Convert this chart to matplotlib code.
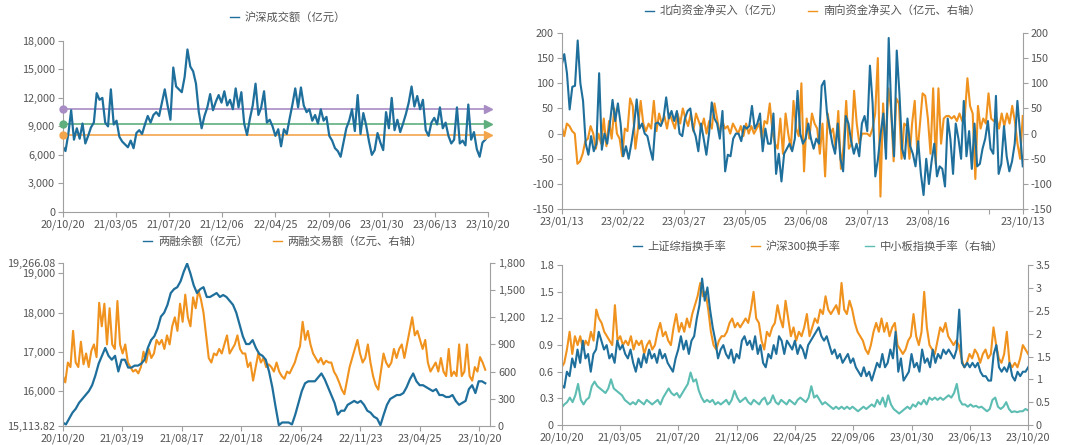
import numpy as np
import matplotlib.pyplot as plt
from matplotlib.lines import Line2D
from matplotlib.ticker import FuncFormatter

plt.rcParams['font.family'] = ['Noto Sans CJK SC', 'DejaVu Sans']
plt.rcParams['axes.unicode_minus'] = False

# ---- 面板1: 沪深成交额（亿元）
turnover = [6900, 6400, 8200, 10700, 7600, 8800, 7700, 9300, 7200, 8000,
            8900, 9400, 12500, 11800, 12000, 9400, 9000, 12900, 9200, 9600,
            7900, 7400, 7100, 6800, 7500, 6700, 8300, 8600, 8200, 9200,
            10100, 9400, 10200, 10500, 10100, 11500, 12900, 11200, 9700, 15200,
            13200, 12900, 12600, 14200, 17100, 15300, 14800, 13500, 10500, 8800,
            10100, 11000, 12400, 10700, 11600, 12300, 11500, 12700, 11200, 11800,
            10800, 13000, 11000, 12600, 9300, 8100, 9800, 11200, 13500, 10200,
            11000, 12700, 9400, 9700, 9000, 8000, 8700, 6900, 8700, 8200,
            9800, 11300, 13000, 11000, 13100, 11200, 10500, 10800, 9600, 10200,
            9300, 10800, 9600, 10000, 8000, 7500, 6700, 6400, 5800, 7300,
            8800, 9600, 10800, 8500, 12300, 8200, 10400, 9100, 7400, 6000,
            6500, 8300, 7300, 6500, 10500, 8800, 12000, 8600, 9700, 8400,
            9300, 10300, 11500, 13200, 11100, 12200, 10800, 11800, 8600, 8000,
            9400, 9900, 9200, 11000, 8800, 9400, 8000, 7200, 7600, 11000,
            7200, 7500, 7000, 11300, 7600, 8400, 6600, 5800, 7300, 7600, 8100]
ref_levels = [10800, 9300, 8100]
ref_colors = ['#a88cc4', '#5fae7d', '#f3a54c']
p1_labels = ['20/10/20', '21/03/05', '21/07/20', '21/12/06', '22/04/25',
             '22/09/06', '23/01/30', '23/06/13', '23/10/20']

# ---- 面板2: 北向/南向资金净买入
north = [135, 158, 120, 48, 93, 95, 185, 100, 65, -20, -42, -5, -35, -20, 120,
         -32, 0, -20, 20, 67, 25, 60, 20, -45, -25, -50, -20, 15, 68, 10,
         20, 0, -5, -30, -52, 20, 22, 15, 30, 72, 30, 45, 25, 45, 0,
         -5, 30, 45, 50, 10, -5, -35, 20, -10, -42, 0, 62, 30, 20, -10,
         45, -75, -42, -45, -10, 0, 0, -15, 15, 10, 15, 55, 10, 20, 40,
         -35, 10, -20, -20, 40, -80, -40, -95, -40, -30, -20, -35, -10, 85, 0,
         -20, -10, 20, -10, -30, -10, -20, 95, 105, 40, 10, -20, -40, 20, -50,
         -75, 35, 20, -15, -40, -20, -45, 20, 35, 5, 135, 60, -85, -50, 0,
         40, -50, 190, 40, -45, 165, 80, -30, -50, 30, -25, -40, -65, -15, -80,
         -122, -50, -100, -55, -20, -85, -65, -70, -105, 30, -10, -80, 20, -10, -50,
         65, -45, 5, -70, 20, -65, -60, -30, -10, 25, -30, -40, 75, -80, -60,
         15, -45, -75, -55, -20, 65, 0, -65]
south = [15, -5, 20, 15, 5, 0, -60, -55, -40, -15, -10, 15, 0, -30, 0,
         -20, 30, -25, 25, -10, 50, 0, -10, -45, 10, 5, 70, 55, -30, 10,
         65, 20, 5, 20, 10, 65, 5, 40, 20, 35, 10, 40, 25, 10, 40,
         20, 50, 30, 15, 40, 5, 40, 25, 10, 30, 0, 25, 10, 60, 30,
         0, 25, 10, 15, 0, 20, 10, 0, 15, -5, 20, 0, 15, 0, 10,
         20, -10, 25, 20, 60, 5, -20, -30, 30, -40, 40, 0, -30, 65, 10,
         -5, 100, -75, 30, -10, 40, 20, 10, -40, 20, -85, 40, 0, 10, -30,
         45, -70, -25, 65, -30, -20, 85, 20, -20, 0, 0, 0, -5, 10, 40,
         150, -125, 60, -30, 90, 50, -55, 70, 60, -50, 20, 15, -50, 20, 65,
         -40, 20, 80, 75, 30, -40, 90, -60, 90, -20, 30, 35, 35, 30, 35,
         25, 40, 25, 35, 110, 55, 40, -90, 55, 10, 30, 20, 80, 30, 25,
         30, 10, 40, 15, 40, 20, 55, 25, -20, -50, 35]
p2_labels = ['23/01/13', '23/02/22', '23/03/27', '23/05/05', '23/06/08',
             '23/07/13', '23/08/16', '', '23/10/13']

# ---- 面板3: 两融余额 / 两融交易额
margin_bal = [15200, 15150, 15300, 15450, 15550, 15700, 15800, 15900, 16000, 16150,
              16400, 16700, 16900, 17100, 16900, 16800, 16900, 16500, 16800, 16800,
              16600, 16600, 16650, 16650, 16700, 16800, 17100, 17300, 17400, 17600,
              17900, 18000, 18200, 18500, 18600, 18650, 18800, 19050, 19250, 19000,
              18700, 18500, 18600, 18650, 18400, 18400, 18450, 18500, 18400, 18450,
              18400, 18300, 18200, 18000, 17700, 17400, 17200, 17200, 17300, 17100,
              16950, 16900, 16800, 16500, 16100, 15600, 15130, 15200, 15200, 15200,
              15150, 15400, 15700, 16000, 16200, 16250, 16250, 16250, 16350, 16450,
              16300, 16100, 15900, 15700, 15400, 15500, 15500, 15650, 15700, 15750,
              15700, 15750, 15650, 15500, 15450, 15350, 15300, 15130, 15400, 15650,
              15800, 15850, 15900, 15900, 15950, 16100, 16300, 16450, 16250, 16150,
              16150, 16100, 16050, 16000, 16050, 15900, 15900, 15850, 15850, 15900,
              15750, 15650, 15700, 15750, 16050, 16150, 15950, 16250, 16250, 16200]
margin_trade = [560, 480, 700, 650, 1050, 700, 650, 930, 680, 800,
                650, 830, 900, 760, 1360, 1100, 1350, 900, 1300, 900,
                850, 1380, 900, 800, 900, 700, 650, 600, 620, 580,
                650, 820, 700, 850, 750, 800, 950, 900, 950, 850,
                1000, 900, 1100, 1200, 1050, 1350, 1150, 1450, 1200, 1100,
                1420, 1300, 1500, 1400, 1250, 1000, 750, 700, 800, 780,
                850, 800, 900, 1000, 800, 850, 900, 1000, 850, 800,
                800, 650, 700, 500, 650, 800, 700, 750, 650, 680,
                650, 600, 700, 600, 550, 520, 600, 580, 640, 700,
                800, 880, 1150, 950, 1050, 900, 800, 750, 700, 750,
                680, 720, 700, 700, 600, 550, 480, 400, 350, 500,
                650, 750, 850, 950, 800, 700, 750, 900, 700, 550,
                450, 400, 600, 800, 700, 650, 700, 850, 750, 850,
                900, 750, 900, 1050, 1200, 1000, 1050, 950, 850, 950,
                700, 600, 650, 700, 600, 750, 600, 550, 850, 550,
                600, 550, 900, 550, 600, 900, 550, 500, 650, 600,
                760, 700, 620]
p3_labels = ['20/10/20', '21/03/19', '21/08/17', '22/01/18', '22/06/24',
             '22/11/23', '23/04/25', '23/10/20']
bal_min, bal_max = 15113.82, 19266.08

# ---- 面板4: 换手率
sh_rate = [0.45, 0.42, 0.6, 0.55, 0.75, 0.65, 0.85, 0.7, 0.95, 0.75,
           0.8, 0.6, 0.8, 0.85, 1.05, 0.95, 0.85, 0.9, 0.75, 0.8,
           0.7, 0.95, 0.85, 0.9, 0.8, 0.75, 0.85, 0.7, 0.6, 0.75,
           0.65, 0.8, 0.7, 0.85, 0.75, 0.8, 0.7, 0.85, 0.75, 0.8,
           0.7, 0.65, 0.6, 0.75, 0.85, 1.0, 0.85, 0.95, 0.8, 0.95,
           1.0, 1.2, 1.35, 1.65, 1.4, 1.55, 1.3, 1.1, 0.95, 0.75,
           0.85, 0.9, 0.8, 0.75, 0.85, 0.7, 0.8, 0.75, 0.95, 1.0,
           0.9, 0.95, 0.85, 1.0, 0.8, 0.9, 0.7, 0.65, 0.8, 0.75,
           0.9, 0.8, 1.0, 0.95, 0.8, 0.95, 0.9, 0.85, 0.95, 0.8,
           0.9, 0.85, 0.75, 0.9, 0.95, 1.0, 1.05, 1.1, 1.0, 0.95,
           1.0, 0.9, 0.8, 0.85, 0.75, 0.8, 0.7, 0.75, 0.8, 0.7,
           0.75, 0.65, 0.6, 0.55, 0.65, 0.55, 0.6, 0.5, 0.6, 0.7,
           0.65, 0.8, 0.65, 0.7, 0.85, 0.75, 1.05, 0.6, 0.75, 0.5,
           0.55, 0.6, 0.8, 0.65, 0.7, 0.6, 0.85, 0.7, 0.75, 0.65,
           0.85, 0.7, 0.8, 0.75, 0.85, 0.8, 0.85, 0.8, 0.75, 0.85,
           1.3, 0.7, 0.65, 0.7, 0.65, 0.7, 0.65, 0.7, 0.6, 0.55,
           0.55, 0.5, 0.5, 0.8, 0.9, 0.65, 0.6, 0.65, 0.6, 0.7,
           0.55, 0.5, 0.6, 0.55, 0.6, 0.6, 0.65]
hs300_rate = [0.65, 0.7, 0.85, 1.05, 0.8, 1.0, 0.9, 1.0, 0.85, 0.95,
              0.9, 1.05, 0.95, 1.3, 1.2, 1.15, 1.05, 1.0, 0.95, 0.9,
              1.35, 0.95, 1.0, 0.9, 0.95, 0.9, 1.0, 0.85, 0.95, 0.9,
              0.95, 0.8, 0.9, 0.95, 0.85, 0.9, 1.05, 1.15, 1.0, 1.05,
              0.95, 0.9, 1.1, 1.25, 1.05, 1.15, 1.05, 1.2, 1.1, 1.25,
              1.35, 1.45, 1.6, 1.45, 1.5, 1.3, 1.05, 0.9, 0.85, 0.95,
              1.0, 1.0, 1.05, 1.15, 1.2, 1.1, 1.15, 1.1, 1.15, 1.2,
              1.15, 1.3, 1.5, 1.2, 1.15, 0.95, 0.85, 1.05, 1.0, 1.1,
              1.15, 1.35, 1.2, 1.1, 1.4, 1.2, 1.0, 1.1, 0.95, 1.05,
              1.0, 1.1, 1.25, 1.0, 1.1, 1.2, 1.15, 1.3, 1.25, 1.45,
              1.3, 1.25, 1.3, 1.35, 1.25, 1.6, 1.3, 1.25, 1.4, 1.3,
              1.15, 1.05, 1.0, 0.95, 0.85, 0.8, 0.9, 1.05, 1.15, 1.05,
              1.2, 1.05, 1.15, 1.0, 1.1, 1.15, 0.9, 0.85, 0.8, 0.85,
              0.95, 1.0, 1.25, 1.0, 0.9, 1.05, 1.5, 1.1, 0.9, 0.85,
              0.8, 0.95, 1.1, 1.05, 1.15, 1.0, 0.95, 0.9, 0.95, 0.9,
              0.75, 0.65, 0.7, 0.8, 0.75, 0.85, 0.8, 0.7, 0.8, 0.85,
              0.75, 0.8, 1.1, 0.9, 0.75, 0.7, 0.8, 1.05, 0.7, 0.65,
              0.7, 0.65, 0.75, 0.9, 0.85, 0.8]
sme_rate = [0.38, 0.45, 0.5, 0.6, 0.5, 0.65, 0.9, 0.55, 0.45, 0.55,
            0.6, 0.85, 0.95, 0.85, 0.8, 0.75, 0.7, 0.8, 1.0, 0.8,
            0.75, 0.7, 0.65, 0.55, 0.5, 0.45, 0.5, 0.45, 0.55, 0.5,
            0.45, 0.55, 0.5, 0.45, 0.5, 0.55, 0.45, 0.6, 0.7, 0.8,
            0.7, 0.65, 0.7, 0.6, 0.7, 0.8, 0.9, 1.15, 0.95, 1.0,
            0.75, 0.6, 0.5, 0.55, 0.5, 0.55, 0.45, 0.5, 0.45, 0.5,
            0.55, 0.45, 0.55, 0.75, 0.6, 0.5, 0.55, 0.6, 0.5, 0.45,
            0.55, 0.5, 0.45, 0.55, 0.6, 0.45, 0.5, 0.65, 0.5, 0.45,
            0.55, 0.5, 0.45, 0.55, 0.5, 0.45, 0.55, 0.6, 0.55, 0.5,
            0.6, 0.85, 0.6, 0.65, 0.55, 0.45, 0.5, 0.45, 0.4, 0.35,
            0.4, 0.35, 0.4, 0.35, 0.4, 0.35, 0.4, 0.35, 0.3, 0.35,
            0.4, 0.35, 0.4, 0.45, 0.4, 0.55, 0.45, 0.6, 0.4, 0.65,
            0.45, 0.35, 0.3, 0.25, 0.3, 0.35, 0.4, 0.35, 0.45, 0.4,
            0.5, 0.45, 0.55, 0.45, 0.6, 0.55, 0.6, 0.55, 0.6, 0.55,
            0.6, 0.65, 0.6, 0.7, 0.9, 0.55, 0.45, 0.45, 0.4, 0.45,
            0.4, 0.42, 0.38, 0.4, 0.35, 0.3, 0.35, 0.55, 0.6, 0.4,
            0.35, 0.4, 0.5, 0.35, 0.28, 0.3, 0.28, 0.3, 0.3, 0.35, 0.32]
p4_labels = p1_labels

BLUE = '#1f6f9c'
ORANGE = '#f0921e'
TEAL = '#5dbdb3'
AXC = '#a0a0a0'
TXT = '#555555'
FS = 7.8

fig = plt.figure(figsize=(10.8, 4.45), dpi=100)


def style(ax, right=None):
    for s in ['top', 'right']:
        ax.spines[s].set_visible(False)
    for s in ['left', 'bottom']:
        ax.spines[s].set_color(AXC)
    ax.tick_params(colors=AXC, labelcolor=TXT, labelsize=FS, length=3.5, width=0.8, pad=2)
    if right is not None:
        for s in ['top', 'left', 'bottom']:
            right.spines[s].set_visible(False)
        right.spines['right'].set_color(AXC)
        right.tick_params(colors=AXC, labelcolor=TXT, labelsize=FS, length=3.5, width=0.8, pad=2)


def legend(ax, handles, x, y):
    ax.legend(handles=handles, loc='center', bbox_to_anchor=(x, y), ncol=len(handles),
              frameon=False, fontsize=FS + 0.3, handlelength=0.8, handletextpad=0.5,
              columnspacing=2.2, labelcolor=TXT, borderaxespad=0, borderpad=0)


comma = FuncFormatter(lambda v, p: f'{v:,.0f}')

# ---- 面板1
ax1 = fig.add_axes([0.058, 0.524, 0.394, 0.384])
x1 = np.arange(len(turnover))
for lvl, c in zip(ref_levels, ref_colors):
    ax1.plot([x1[0], x1[-1]], [lvl, lvl], color=c, lw=1.2, zorder=1)
    ax1.plot(x1[0], lvl, 'o', color=c, ms=5, zorder=3, clip_on=False)
    ax1.plot(x1[-1], lvl, '>', color=c, ms=6, zorder=3, clip_on=False)
ax1.plot(x1, turnover, color=BLUE, lw=1.6, zorder=2)
ax1.set_ylim(0, 18000)
ax1.set_yticks(np.arange(0, 18001, 3000))
ax1.yaxis.set_major_formatter(comma)
ax1.set_xlim(x1[0], x1[-1])
ax1.set_xticks(np.linspace(x1[0], x1[-1], len(p1_labels)))
ax1.set_xticklabels(p1_labels)
style(ax1)
legend(ax1, [Line2D([], [], color=BLUE, lw=1.0, label='沪深成交额（亿元）')], 0.53, 1.14)

# ---- 面板2
ax2 = fig.add_axes([0.520, 0.530, 0.427, 0.396])
ax2r = ax2.twinx()
x2n = np.linspace(0, 1, len(north))
x2s = np.linspace(0, 1, len(south))
ax2r.plot(x2s, south, color=ORANGE, lw=1.5)
ax2.plot(x2n, north, color=BLUE, lw=1.5)
ax2.set_zorder(ax2r.get_zorder() + 1)
ax2.patch.set_visible(False)
for a in (ax2, ax2r):
    a.set_ylim(-150, 200)
    a.set_yticks(np.arange(-150, 201, 50))
ax2.set_xlim(0, 1)
ax2.set_xticks([i * 0.1325 for i in range(8)] + [1.0])
ax2.set_xticklabels(p2_labels)
style(ax2, ax2r)
legend(ax2, [Line2D([], [], color=BLUE, lw=1.0, label='北向资金净买入（亿元）'),
             Line2D([], [], color=ORANGE, lw=1.0, label='南向资金净买入（亿元、右轴）')], 0.545, 1.125)

# ---- 面板3
ax3 = fig.add_axes([0.058, 0.043, 0.396, 0.366])
ax3r = ax3.twinx()
x3b = np.linspace(0, 1, len(margin_bal))
x3t = np.linspace(0, 1, len(margin_trade))
ax3r.plot(x3t, margin_trade, color=ORANGE, lw=1.5)
ax3.plot(x3b, margin_bal, color=BLUE, lw=1.6)
ax3.set_zorder(ax3r.get_zorder() + 1)
ax3.patch.set_visible(False)
ax3.set_ylim(bal_min, bal_max)
ax3.set_yticks([bal_min, 16000, 17000, 18000, 19000, bal_max])
ax3.set_yticklabels([f'{bal_min:,.2f}', '16,000', '17,000', '18,000', '19,000', f'{bal_max:,.2f}'])
ax3r.set_ylim(0, 1800)
ax3r.set_yticks(np.arange(0, 1801, 300))
ax3r.yaxis.set_major_formatter(comma)
ax3.set_xlim(0, 1.012)
ax3.set_xticks([i * 0.1409 for i in range(len(p3_labels))])
ax3.set_xticklabels(p3_labels)
style(ax3, ax3r)
legend(ax3, [Line2D([], [], color=BLUE, lw=1.0, label='两融余额（亿元）'),
             Line2D([], [], color=ORANGE, lw=1.0, label='两融交易额（亿元、右轴）')], 0.515, 1.13)

# ---- 面板4
ax4 = fig.add_axes([0.520, 0.045, 0.432, 0.359])
ax4r = ax4.twinx()
ax4r.plot(np.linspace(0, 1, len(sme_rate)), sme_rate, color=TEAL, lw=1.5)
ax4.plot(np.linspace(0, 1, len(hs300_rate)), hs300_rate, color=ORANGE, lw=1.5)
ax4.plot(np.linspace(0, 1, len(sh_rate)), sh_rate, color=BLUE, lw=1.5)
ax4.set_zorder(ax4r.get_zorder() + 1)
ax4.patch.set_visible(False)
ax4.set_ylim(0, 1.8)
ax4.set_yticks(np.arange(0, 1.81, 0.3))
ax4.yaxis.set_major_formatter(FuncFormatter(lambda v, p: '0' if abs(v) < 1e-9 else f'{v:.1f}'))
ax4r.set_ylim(0, 3.5)
ax4r.set_yticks(np.arange(0, 3.51, 0.5))
ax4r.yaxis.set_major_formatter(FuncFormatter(lambda v, p: f'{v:g}'))
ax4.set_xlim(0, 1)
ax4.set_xticks(np.linspace(0, 1, len(p4_labels)))
ax4.set_xticklabels(p4_labels)
style(ax4, ax4r)
legend(ax4, [Line2D([], [], color=BLUE, lw=1.0, label='上证综指换手率'),
             Line2D([], [], color=ORANGE, lw=1.0, label='沪深300换手率'),
             Line2D([], [], color=TEAL, lw=1.0, label='中小板指换手率（右轴）')], 0.55, 1.12)

fig.savefig('out.png', dpi=100)
